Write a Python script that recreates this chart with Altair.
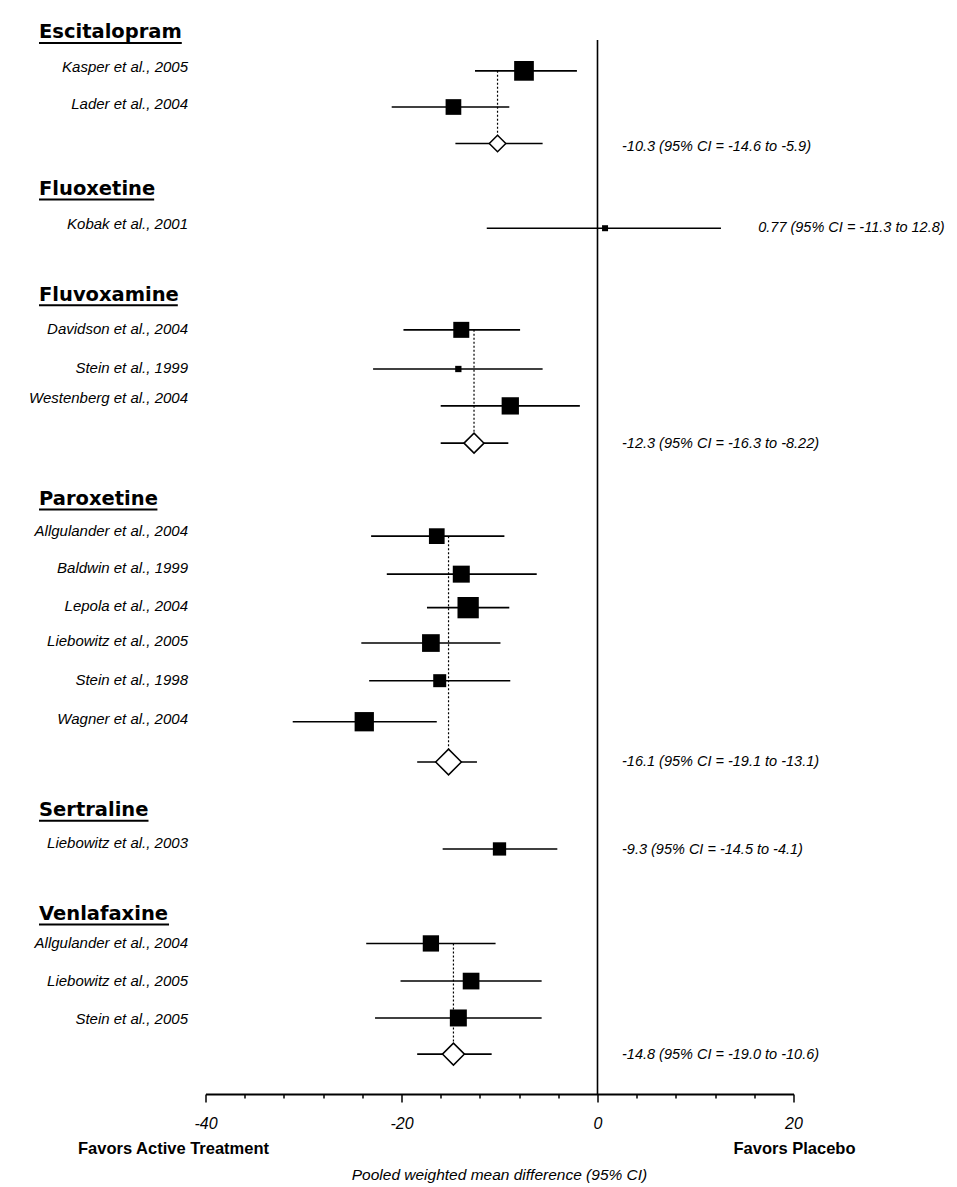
import altair as alt
import pandas as pd

# ---------------- data ----------------
drugs = ["Escitalopram", "Fluoxetine", "Fluvoxamine", "Paroxetine", "Sertraline", "Venlafaxine"]
drug_rows = [-0.04, 4.12, 6.93, 12.35, 20.62, 23.38]   # header baselines, in row units

studies = ["Kasper et al., 2005", "Lader et al., 2004",
           "Kobak et al., 2001",
           "Davidson et al., 2004", "Stein et al., 1999", "Westenberg et al., 2004",
           "Allgulander et al., 2004", "Baldwin et al., 1999", "Lepola et al., 2004",
           "Liebowitz et al., 2005", "Stein et al., 1998", "Wagner et al., 2004",
           "Liebowitz et al., 2003",
           "Allgulander et al., 2004", "Liebowitz et al., 2005", "Stein et al., 2005"]
study_drug = ["Escitalopram", "Escitalopram",
              "Fluoxetine",
              "Fluvoxamine", "Fluvoxamine", "Fluvoxamine",
              "Paroxetine", "Paroxetine", "Paroxetine", "Paroxetine", "Paroxetine", "Paroxetine",
              "Sertraline",
              "Venlafaxine", "Venlafaxine", "Venlafaxine"]
study_rows = [0.82, 1.78, 5.0, 7.70, 8.74, 9.72, 13.18, 14.19, 15.08, 16.02, 17.02, 18.11,
              21.49, 24.0, 25.0, 25.98]
label_rows = [0.73, 1.71, 4.89, 7.68, 8.71, 9.51, 13.04, 14.03, 15.04, 15.97, 17.0, 18.04,
              21.33, 24.0, 25.0, 26.01]
study_est = [-7.5, -14.7, 0.77, -13.9, -14.2, -8.9, -16.4, -13.9, -13.2, -17.0, -16.1, -23.8,
             -10.0, -17.0, -12.9, -14.2]
study_lo = [-12.5, -21.0, -11.3, -19.8, -22.9, -16.0, -23.1, -21.5, -17.4, -24.1, -23.3, -31.1,
            -15.8, -23.6, -20.1, -22.7]
study_hi = [-2.1, -9.0, 12.6, -7.9, -5.6, -1.8, -9.5, -6.2, -9.0, -9.9, -8.9, -16.4,
            -4.1, -10.4, -5.7, -5.7]
study_weight = [19.7, 15.7, 6.0, 16.0, 6.3, 17.3, 15.7, 17.0, 21.3, 17.7, 13.0, 19.3,
                13.3, 16.3, 16.7, 17.0]

pooled_drugs = ["Escitalopram", "Fluvoxamine", "Paroxetine", "Venlafaxine"]
pooled_rows = [2.75, 10.71, 19.18, 26.94]
pooled_est = [-10.2, -12.6, -15.2, -14.7]
pooled_lo = [-14.5, -16.0, -18.4, -18.4]
pooled_hi = [-5.6, -9.1, -12.3, -10.8]
pooled_weight = [16.5, 20.0, 25.7, 22.0]

summary_drugs = ["Escitalopram", "Fluoxetine", "Fluvoxamine", "Paroxetine", "Sertraline", "Venlafaxine"]
summary_text = ["-10.3 (95% CI = -14.6 to -5.9)",
                "0.77 (95% CI = -11.3 to 12.8)",
                "-12.3 (95% CI = -16.3 to -8.22)",
                "-16.1 (95% CI = -19.1 to -13.1)",
                "-9.3 (95% CI = -14.5 to -4.1)",
                "-14.8 (95% CI = -19.0 to -10.6)"]
summary_rows = [2.84, 4.99, 10.73, 19.17, 21.52, 26.97]

tick_values = list(range(-40, 21, 4))

# ---------------- layout helpers ----------------
W, H = 588, 1054
X_MIN, X_MAX = -40, 20
ROWS = 28
PX_PER_ROW = H / ROWS
UNIT_PER_PX = (X_MAX - X_MIN) / W

HEADER_FONT = 19.5
HEADER_LEFT_PX = -166.5
# DejaVu Sans Bold advance widths (units of 2048/em)
DJV_BOLD = {"E": 1399, "F": 1292, "P": 1401, "S": 1479, "V": 1585,
            "a": 1382, "c": 1214, "e": 1389, "f": 891, "i": 702, "l": 702, "m": 2134,
            "n": 1458, "o": 1407, "p": 1466, "r": 1010, "s": 1219, "t": 979, "u": 1458,
            "v": 1335, "x": 1319}


def text_width(s):
    return sum(DJV_BOLD.get(ch, 1300) for ch in s) / 2048 * HEADER_FONT


studies_df = pd.DataFrame({"study": studies, "drug": study_drug, "row": study_rows,
                           "label_row": label_rows, "est": study_est, "lo": study_lo,
                           "hi": study_hi, "weight": study_weight})

first_rows = [min(r for r, d in zip(study_rows, study_drug) if d == p) for p in pooled_drugs]
pooled_df = pd.DataFrame({"drug": pooled_drugs, "row": pooled_rows, "first_row": first_rows,
                          "est": pooled_est, "lo": pooled_lo, "hi": pooled_hi,
                          "weight": pooled_weight})

headers_df = pd.DataFrame({"drug": drugs, "row": drug_rows})
headers_df["ul_row"] = headers_df["row"] + 4.5 / PX_PER_ROW
headers_df["ul_x"] = X_MIN + HEADER_LEFT_PX * UNIT_PER_PX
headers_df["ul_x2"] = [X_MIN + (HEADER_LEFT_PX + text_width(d)) * UNIT_PER_PX for d in drugs]

max_hi = {}
for d, h in zip(study_drug + pooled_drugs, study_hi + pooled_hi):
    max_hi[d] = max(max_hi.get(d, -99), h)
summary_df = pd.DataFrame({"drug": summary_drugs, "text": summary_text, "row": summary_rows})
summary_df["tx"] = [max(2.5, max_hi[d] + 3.8) for d in summary_drugs]

zero_df = pd.DataFrame({"x": [0], "y": [0], "y2": [ROWS]})
bottom_df = pd.DataFrame({"t": ["x"]})

# ---------------- encodings ----------------
x_scale = alt.Scale(domain=[X_MIN, X_MAX], nice=False, zero=False)
y_scale = alt.Scale(domain=[0, ROWS], reverse=True, nice=False, zero=False)
x_axis = alt.Axis(
    values=tick_values, grid=False, title=None,
    domainColor="black", domainWidth=2, tickColor="black", tickWidth=1.5,
    tickSize={"condition": {"test": "datum.value % 20 === 0", "value": 8}, "value": 4},
    labelExpr="datum.value % 20 === 0 ? '' + datum.value : ''",
    labelFont="Liberation Sans", labelFontStyle="italic", labelFontSize=16,
    labelColor="black", labelPadding=13, labelFlush=False, labelOverlap=False,
)


def X(field):
    return alt.X(field, type="quantitative", scale=x_scale, axis=x_axis)


def Y(field):
    return alt.Y(field, type="quantitative", scale=y_scale, axis=None)


size_scale = alt.Scale(type="pow", exponent=2, domain=[0, 20], range=[0, 400])

zero_line = alt.Chart(zero_df).mark_rule(color="black", strokeWidth=1.6).encode(
    x=X("x"), y=Y("y"), y2="y2")

study_ci = alt.Chart(studies_df).mark_rule(color="black", strokeWidth=1.6).encode(
    x=X("lo"), x2="hi", y=Y("row"))

study_sq = alt.Chart(studies_df).mark_square(color="black", opacity=1, filled=True).encode(
    x=X("est"), y=Y("row"), size=alt.Size("weight:Q", scale=size_scale, legend=None))

dotted = alt.Chart(pooled_df).mark_rule(color="black", strokeWidth=1.2, strokeDash=[2, 2]).encode(
    x=X("est"), y=Y("first_row"), y2="row")

pooled_ci = alt.Chart(pooled_df).mark_rule(color="black", strokeWidth=1.6).encode(
    x=X("lo"), x2="hi", y=Y("row"))

diamonds = alt.Chart(pooled_df).mark_point(shape="diamond", filled=True, fill="white",
                                           stroke="black", strokeWidth=1.5, opacity=1).encode(
    x=X("est"), y=Y("row"), size=alt.Size("weight:Q", scale=size_scale, legend=None))

study_labels = alt.Chart(studies_df).mark_text(
    align="right", baseline="middle", font="Liberation Sans", fontStyle="italic",
    fontSize=15, color="black").encode(
    x=alt.value(-17.5), y=Y("label_row"), text="study:N")

headers = alt.Chart(headers_df).mark_text(
    align="left", baseline="alphabetic", font="DejaVu Sans", fontWeight="bold",
    fontSize=HEADER_FONT, color="black").encode(
    x=alt.value(HEADER_LEFT_PX), y=Y("row"), text="drug:N")

underlines = alt.Chart(headers_df).mark_rule(color="black", strokeWidth=2).encode(
    x=X("ul_x"), x2="ul_x2", y=Y("ul_row"))

summaries = alt.Chart(summary_df).mark_text(
    align="left", baseline="middle", font="Liberation Sans", fontStyle="italic",
    fontSize=14.5, color="black").encode(
    x=X("tx"), y=Y("row"), text="text:N")

fav_active = alt.Chart(bottom_df).mark_text(
    align="center", baseline="middle", font="Liberation Sans", fontWeight="bold",
    fontSize=16.5, color="black", text="Favors Active Treatment").encode(
    x=alt.value(-32), y=alt.value(1108.5))

fav_placebo = alt.Chart(bottom_df).mark_text(
    align="center", baseline="middle", font="Liberation Sans", fontWeight="bold",
    fontSize=16.5, color="black", text="Favors Placebo").encode(
    x=alt.value(589), y=alt.value(1108.5))

x_title = alt.Chart(bottom_df).mark_text(
    align="center", baseline="middle", font="Liberation Sans", fontStyle="italic",
    fontSize=15.5, color="black", text="Pooled weighted mean difference (95% CI)").encode(
    x=alt.value(294), y=alt.value(1135))

chart = alt.layer(
    zero_line, study_ci, dotted, pooled_ci, study_sq, diamonds,
    underlines, headers, study_labels, summaries, fav_active, fav_placebo, x_title,
).properties(
    width=W, height=H,
    autosize=alt.AutoSizeParams(type="none"),
    padding={"left": 197.5, "top": 32, "right": 155, "bottom": 92},
    background="white",
).configure(
    font="Liberation Sans",
    view=alt.ViewConfig(strokeWidth=0, stroke="transparent"),
)

chart.save("out.html", embed_options={"renderer": "svg", "actions": False})
